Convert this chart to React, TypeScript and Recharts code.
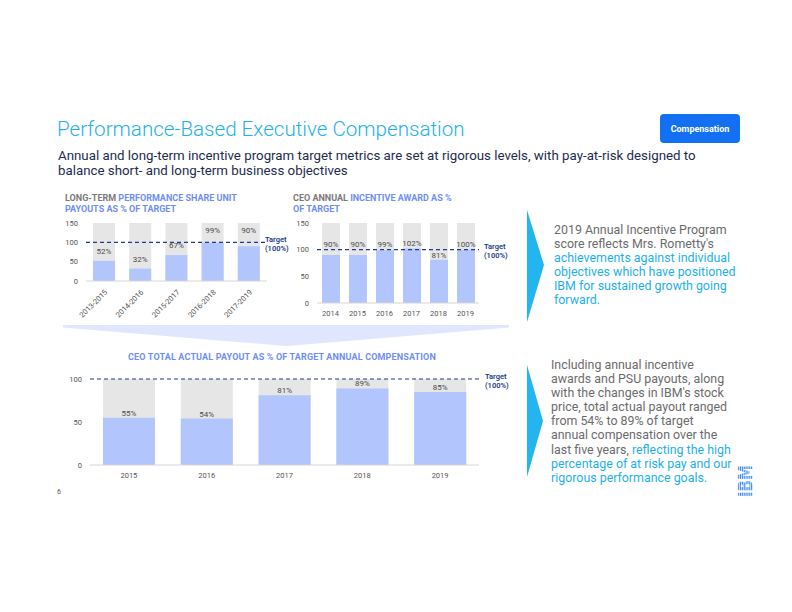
import { BarChart, Bar, XAxis, YAxis, ReferenceLine, LabelList } from 'recharts';

// long-term PSU payouts as % of target
const psuPeriods = ['2013-2015', '2014-2016', '2015-2017', '2016-2018', '2017-2019'];
const psuPayout = [52, 32, 67, 99, 90];

// CEO annual incentive award as % of target
const annualYears = ['2014', '2015', '2016', '2017', '2018', '2019'];
const annualPayout = [90, 90, 99, 102, 81, 100];

// CEO total actual payout as % of target annual compensation
const totalYears = ['2015', '2016', '2017', '2018', '2019'];
const totalPayout = [55, 54, 81, 89, 85];

const targetPct = 100;
const smallTicks = [0, 50, 100, 150];
const totalTicks = [0, 50, 100];

const psuData = psuPeriods.map((name, i) => ({ name, value: psuPayout[i] }));
const annualData = annualYears.map((name, i) => ({ name, value: annualPayout[i] }));
const totalData = totalYears.map((name, i) => ({ name, value: totalPayout[i] }));

const BAR_BLUE = '#b2c5fc';
const BAR_GRAY = '#e6e6e6';
const NAVY = '#23398a';
const CYAN = '#1eb1ea';
const TEXT_GRAY = '#6b6b6b';
const TITLE_BLUE = '#6f8ef4';
const FONT = 'Roboto, "Noto Sans", sans-serif';

const tickStyle = { fontSize: 7.5, fill: '#555', fontFamily: FONT };

const targetLabel = (dx: number) => (props: any) => {
  const { viewBox } = props;
  const x = viewBox.x + viewBox.width + dx;
  const y = viewBox.y;
  return (
    <text x={x} y={y} fill={NAVY} fontSize={7.5} fontWeight={600} fontFamily={FONT}>
      <tspan x={x} dy={-0.5}>Target</tspan>
      <tspan x={x} dy={9}>(100%)</tspan>
    </text>
  );
};

// value label above the bar; bars that end just under the target line get
// their label lifted clear of the dashed line
const valueLabel = (offset: number, gap: number | null) => (props: any) => {
  const { x, y, width, height, value } = props;
  const bottom = y + height;
  const lineY = bottom - (targetPct * height) / value;
  let base = y - offset;
  if (gap !== null && y - lineY < 8) base = Math.min(y, lineY) - gap;
  return (
    <text x={x + width / 2} y={base} textAnchor="middle" fontSize={8} fill="#4a4a4a" fontFamily={FONT}>
      {`${value}%`}
    </text>
  );
};

const block1 = [
  [{ t: '2019 Annual Incentive Program', c: TEXT_GRAY }],
  [{ t: "score reflects Mrs. Rometty's", c: TEXT_GRAY }],
  [{ t: 'achievements against individual', c: CYAN }],
  [{ t: 'objectives which have positioned', c: CYAN }],
  [{ t: 'IBM for sustained growth going', c: CYAN }],
  [{ t: 'forward.', c: CYAN }],
];

const block2 = [
  [{ t: 'Including annual incentive', c: TEXT_GRAY }],
  [{ t: 'awards and PSU payouts, along', c: TEXT_GRAY }],
  [{ t: "with the changes in IBM's stock", c: TEXT_GRAY }],
  [{ t: 'price, total actual payout ranged', c: TEXT_GRAY }],
  [{ t: 'from 54% to 89% of target', c: TEXT_GRAY }],
  [{ t: 'annual compensation over the', c: TEXT_GRAY }],
  [{ t: 'last five years, ', c: TEXT_GRAY }, { t: 'reflecting the high', c: CYAN }],
  [{ t: 'percentage of at risk pay and our', c: CYAN }],
  [{ t: 'rigorous performance goals.', c: CYAN }],
];

function TextBlock({ lines, left, top }: { lines: { t: string; c: string }[][]; left: number; top: number }) {
  return (
    <div style={{ position: 'absolute', left, top, fontSize: 12.4, lineHeight: '14.1px', fontFamily: FONT, whiteSpace: 'nowrap' }}>
      {lines.map((parts, i) => (
        <div key={i}>
          {parts.map((p, j) => (
            <span key={j} style={{ color: p.c }}>{p.t}</span>
          ))}
        </div>
      ))}
    </div>
  );
}

const abs = (left: number, top: number): React.CSSProperties => ({ position: 'absolute', left, top });

export default function App() {
  return (
    <div style={{ position: 'absolute', left: 0, top: 0, width: 792, height: 612, background: '#fff', overflow: 'hidden', fontFamily: FONT }}>
      {/* header */}
      <div style={{ ...abs(57, 117), fontSize: 20.6, fontWeight: 300, color: CYAN, whiteSpace: 'nowrap' }}>
        Performance-Based Executive Compensation
      </div>
      <div style={{ ...abs(58, 148), fontSize: 13.3, lineHeight: '15px', color: '#1d2c4c', whiteSpace: 'nowrap' }}>
        <div>Annual and long-term incentive program target metrics are set at rigorous levels, with pay-at-risk designed to</div>
        <div>balance short- and long-term business objectives</div>
      </div>
      <div
        style={{
          ...abs(660, 114), width: 80, height: 29, borderRadius: 4, background: '#1370f3', color: '#fff',
          fontSize: 9, fontWeight: 700, display: 'flex', alignItems: 'center', justifyContent: 'center',
        }}
      >
        Compensation
      </div>

      {/* chart titles */}
      <div style={{ ...abs(65, 193), fontSize: 9, lineHeight: '11px', fontWeight: 700, whiteSpace: 'nowrap', color: TITLE_BLUE }}>
        <div><span style={{ color: '#7a7a7a' }}>LONG-TERM </span>PERFORMANCE SHARE UNIT</div>
        <div>PAYOUTS AS % OF TARGET</div>
      </div>
      <div style={{ ...abs(293, 193), fontSize: 9, lineHeight: '11px', fontWeight: 700, whiteSpace: 'nowrap', color: TITLE_BLUE }}>
        <div><span style={{ color: '#7a7a7a' }}>CEO ANNUAL </span>INCENTIVE AWARD AS %</div>
        <div>OF TARGET</div>
      </div>
      <div style={{ ...abs(0, 352), width: 564, textAlign: 'center', fontSize: 9, letterSpacing: 0.15, fontWeight: 700, color: TITLE_BLUE, whiteSpace: 'nowrap' }}>
        CEO TOTAL ACTUAL PAYOUT AS % OF TARGET ANNUAL COMPENSATION
      </div>

      {/* PSU chart */}
      <div style={abs(0, 215)}>
        <BarChart width={300} height={110} data={psuData} margin={{ top: 8, right: 33, left: 0, bottom: 0 }}>
          <XAxis dataKey="name" height={44} interval={0} angle={-45} textAnchor="end" tickLine={false} axisLine={{ stroke: '#d6d6d6' }} tick={tickStyle} />
          <YAxis width={86} domain={[0, 150]} ticks={smallTicks} axisLine={false} tickLine={false} tick={tickStyle} />
          <Bar dataKey="value" fill={BAR_BLUE} barSize={22} background={{ fill: BAR_GRAY }} isAnimationActive={false}>
            <LabelList dataKey="value" content={valueLabel(7, 9)} />
          </Bar>
          <ReferenceLine y={targetPct} stroke={NAVY} strokeWidth={1.2} strokeDasharray="4 3" label={targetLabel(-2)} />
        </BarChart>
      </div>

      {/* annual incentive chart */}
      <div style={abs(280, 215)}>
        <BarChart width={240} height={110} data={annualData} margin={{ top: 8, right: 41, left: 0, bottom: 0 }}>
          <XAxis dataKey="name" height={22} interval={0} tickLine={false} axisLine={{ stroke: '#d6d6d6' }} tick={tickStyle} />
          <YAxis width={37} domain={[0, 150]} ticks={smallTicks} axisLine={false} tickLine={false} tick={tickStyle} />
          <Bar dataKey="value" fill={BAR_BLUE} barSize={18} background={{ fill: BAR_GRAY }} isAnimationActive={false}>
            <LabelList dataKey="value" content={valueLabel(2, 2.5)} />
          </Bar>
          <ReferenceLine y={targetPct} stroke={NAVY} strokeWidth={1.2} strokeDasharray="4 3" label={targetLabel(5)} />
        </BarChart>
      </div>

      {/* funnel, arrows, logo */}
      <svg style={abs(0, 0)} width={792} height={612} pointerEvents="none">
        <polygon points="63,325 509,325 509,327.5 287,346 63,327.5" fill="#dfe6fd" />
        <polygon points="527,210 544,265 527,322" fill="#22b5ef" />
        <polygon points="527,365 543,421 527,477" fill="#22b5ef" />
        <g transform="translate(752,497) rotate(-90)">
          <text x={0} y={0} fontSize={15} fontWeight={700} fill="#3a8bf4" fontFamily='"DejaVu Sans", sans-serif' transform="scale(1,1.3)" textLength={32} lengthAdjust="spacingAndGlyphs">
            IBM
          </text>
          {[1, 2, 3, 4, 5, 6, 7].map((k) => (
            <rect key={k} x={-1} y={-14.6 + k * 1.85} width={35} height={0.7} fill="#fff" />
          ))}
        </g>
      </svg>

      {/* total payout chart */}
      <div style={abs(0, 370)}>
        <BarChart width={520} height={120} data={totalData} margin={{ top: 9, right: 41, left: 0, bottom: 0 }}>
          <XAxis dataKey="name" height={25} interval={0} tickLine={false} axisLine={{ stroke: '#d6d6d6' }} tick={tickStyle} />
          <YAxis width={90} domain={[0, 100]} ticks={totalTicks} axisLine={false} tickLine={false} tick={tickStyle} />
          <Bar dataKey="value" fill={BAR_BLUE} barSize={52} background={{ fill: BAR_GRAY }} isAnimationActive={false}>
            <LabelList dataKey="value" content={valueLabel(2, null)} />
          </Bar>
          <ReferenceLine y={targetPct} stroke={NAVY} strokeWidth={1.2} strokeDasharray="4 3" label={targetLabel(6)} />
        </BarChart>
      </div>

      {/* commentary */}
      <TextBlock lines={block1} left={554} top={223} />
      <TextBlock lines={block2} left={551} top={358} />

      {/* page number */}
      <div style={{ ...abs(57, 488), fontSize: 7, color: '#555' }}>6</div>
    </div>
  );
}
